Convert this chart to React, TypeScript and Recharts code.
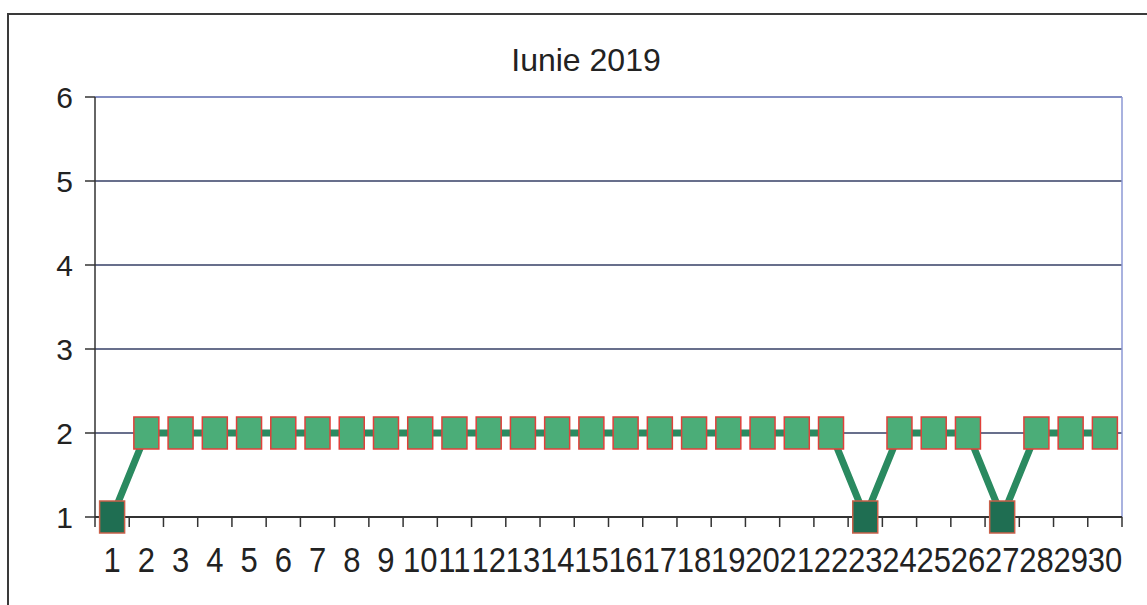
import { CartesianGrid, Line, LineChart, ReferenceLine, XAxis, YAxis } from "recharts"

const title = "Iunie 2019"
const days = [
  1, 2, 3, 4, 5, 6, 7, 8, 9, 10, 11, 12, 13, 14, 15, 16, 17, 18, 19, 20, 21, 22,
  23, 24, 25, 26, 27, 28, 29, 30,
]
const values = [
  1, 2, 2, 2, 2, 2, 2, 2, 2, 2, 2, 2, 2, 2, 2, 2, 2, 2, 2, 2, 2, 2, 1, 2, 2, 2,
  1, 2, 2, 2,
]
const yTicks = [1, 2, 3, 4, 5, 6]

const data = days.map((day, i) => ({ day, value: values[i] }))
// label ticks on the days, tick marks on the category boundaries
const firstDay = days[0]
const lastDay = days[days.length - 1]
const xTicks = [...days, ...days.map((d) => d - 0.5), lastDay + 0.5].sort(
  (a, b) => a - b
)

const TICK_SIZE = 10
const TICK_MARGIN = 20
const FONT = "'Liberation Sans', Arial, sans-serif"

function XTick(props: any) {
  const { x, y, payload } = props
  const v = payload.value as number
  if (Number.isInteger(v)) {
    // the scan is a bit stretched vertically
    return (
      <text
        transform={`translate(${x} ${y}) scale(1 1.13)`}
        x={0}
        y={0}
        dy="0.71em"
        textAnchor="middle"
        fontSize={31}
        fontFamily={FONT}
        fill="#222"
      >
        {v}
      </text>
    )
  }
  const axisY = y - TICK_SIZE - TICK_MARGIN
  return (
    <line
      x1={x}
      x2={x}
      y1={axisY}
      y2={axisY + TICK_SIZE}
      stroke="#333"
      strokeWidth={1.5}
    />
  )
}

function SquareDot(props: any) {
  const { cx, cy, payload, index } = props
  if (cx == null || cy == null) return null
  const low = payload.value === 1
  return (
    <rect
      key={`dot-${index}`}
      x={cx - 12.5}
      y={cy - 16}
      width={25}
      height={32}
      fill={low ? "#1f6e52" : "#4bad78"}
      stroke={low ? "#c8604a" : "#e0403a"}
      strokeWidth={1.5}
    />
  )
}

export default function App() {
  return (
    <div
      style={{
        position: "absolute",
        left: 0,
        top: 0,
        width: 1147,
        height: 605,
        overflow: "hidden",
        background: "#fff",
      }}
    >
      <div
        style={{
          position: "absolute",
          left: 7,
          top: 13,
          width: 1200,
          height: 700,
          border: "2px solid #3a3a3a",
        }}
      />
      <div
        style={{
          position: "absolute",
          left: 386,
          top: 44,
          width: 400,
          textAlign: "center",
          fontSize: 32,
          lineHeight: "32px",
          fontFamily: FONT,
          color: "#222",
        }}
      >
        {title}
      </div>
      <div style={{ position: "absolute", left: 0, top: 0 }}>
        <LineChart
          width={1147}
          height={605}
          data={data}
          margin={{ top: 97, right: 25, bottom: 48, left: 0 }}
        >
          <CartesianGrid
            vertical={false}
            stroke="#363f66"
            strokeWidth={1.5}
          />
          <XAxis
            dataKey="day"
            type="number"
            domain={[firstDay - 0.5, lastDay + 0.5]}
            ticks={xTicks}
            interval={0}
            height={40}
            tickSize={TICK_SIZE}
            tickMargin={TICK_MARGIN}
            tickLine={false}
            tick={<XTick />}
            axisLine={{ stroke: "#333", strokeWidth: 2 }}
          />
          <YAxis
            domain={[1, 6]}
            ticks={yTicks}
            interval={0}
            width={95}
            tickSize={TICK_SIZE}
            tickMargin={12}
            tick={{ fontSize: 30, fontFamily: FONT, fill: "#222" }}
            tickLine={{ stroke: "#333", strokeWidth: 1.5 }}
            axisLine={{ stroke: "#333", strokeWidth: 1.5 }}
          />
          <ReferenceLine y={6} stroke="#8c98d4" strokeWidth={1.5} />
          <ReferenceLine x={lastDay + 0.5} stroke="#8c98d4" strokeWidth={1.5} />
          <Line
            type="linear"
            dataKey="value"
            stroke="#2a8a60"
            strokeWidth={7}
            dot={SquareDot}
            activeDot={false}
            isAnimationActive={false}
          />
        </LineChart>
      </div>
    </div>
  )
}
